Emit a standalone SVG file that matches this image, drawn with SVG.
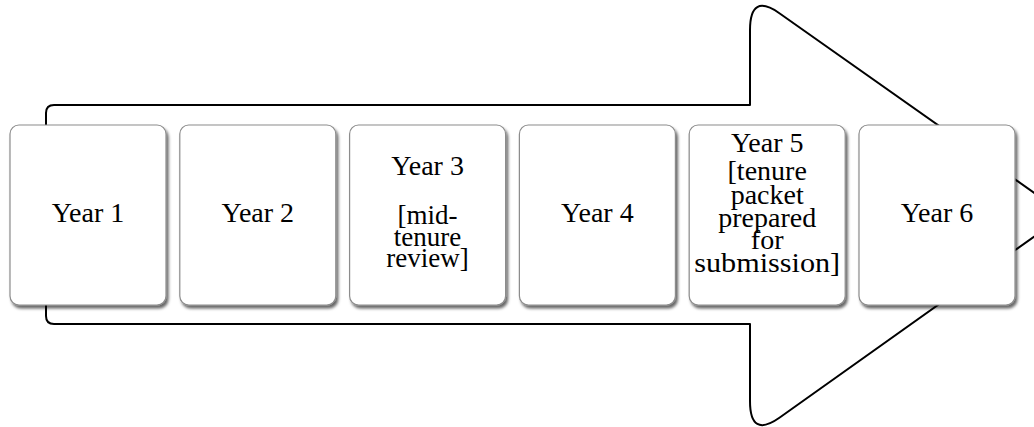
<svg xmlns="http://www.w3.org/2000/svg" width="1034" height="427" viewBox="0 0 1034 427">
  <defs>
    <filter id="shadow" x="-10%" y="-10%" width="125%" height="125%">
      <feDropShadow dx="2" dy="3" stdDeviation="1.6" flood-color="#000" flood-opacity="0.6"/>
    </filter>
    <style>
      .box { fill: #ffffff; stroke: #8c8c8c; stroke-width: 1.2; filter: url(#shadow); }
      .lbl { font-family: "Liberation Serif", "DejaVu Serif", serif; font-size: 28px; fill: #000; text-anchor: middle; }
      .sub { font-size: 27px; }
      .arrow { fill: #ffffff; stroke: #000; stroke-width: 2; stroke-linejoin: round; }
      .frag { font-family: "Liberation Serif", serif; font-size: 27px; fill: #111; }
    </style>
  </defs>

  <rect width="1034" height="427" fill="#ffffff"/>

  <!-- heading line above the frame; only its descenders fall inside the canvas -->
  <g id="heading">
    <text class="frag" x="83" y="-6.5">g</text>
    <text class="frag" x="432" y="-6.5">g</text>
    <text class="frag" x="632" y="-6.5">g</text>
    <text class="frag" x="714" y="-6.5">y</text>
    <text class="frag" x="730" y="-6.5">p</text>
  </g>

  <!-- large block arrow behind the year boxes -->
  <g id="connectors">
    <path class="arrow" d="M46,130 L46,113 Q46,105 54,105 L750,105 L750,30 Q750,-7.5 779.4,13.2 L1065,214.6 L779.4,417.8 Q750,438.5 750,401 L750,324 L54,324 Q46,324 46,316 L46,300 Z"/>
  </g>

  <g id="year1">
    <rect class="box" x="10" y="125" width="156" height="180" rx="9"/>
    <text class="lbl" x="88" y="222">Year 1</text>
  </g>

  <g id="year2">
    <rect class="box" x="179.8" y="125" width="156" height="180" rx="9"/>
    <text class="lbl" x="257.8" y="222">Year 2</text>
  </g>

  <g id="year3">
    <rect class="box" x="349.6" y="125" width="156" height="180" rx="9"/>
    <text class="lbl" x="427.6" y="175">Year 3</text>
    <text class="lbl sub" x="427.6" y="224">[mid-</text>
    <text class="lbl sub" x="427.6" y="246">tenure</text>
    <text class="lbl sub" x="427.6" y="267">review]</text>
  </g>

  <g id="year4">
    <rect class="box" x="519.4" y="125" width="156" height="180" rx="9"/>
    <text class="lbl" x="597.4" y="222">Year 4</text>
  </g>

  <g id="year5">
    <rect class="box" x="689.2" y="125" width="156" height="180" rx="9"/>
    <text class="lbl" x="767.2" y="152">Year 5</text>
    <text class="lbl" x="767.2" y="180">[tenure</text>
    <text class="lbl" x="767.2" y="204">packet</text>
    <text class="lbl" x="767.2" y="227">prepared</text>
    <text class="lbl" x="767.2" y="249">for</text>
    <text class="lbl" x="767.2" y="272" textLength="146" lengthAdjust="spacingAndGlyphs">submission]</text>
  </g>

  <g id="year6">
    <rect class="box" x="859" y="125" width="156" height="180" rx="9"/>
    <text class="lbl" x="937" y="222">Year 6</text>
  </g>
</svg>
